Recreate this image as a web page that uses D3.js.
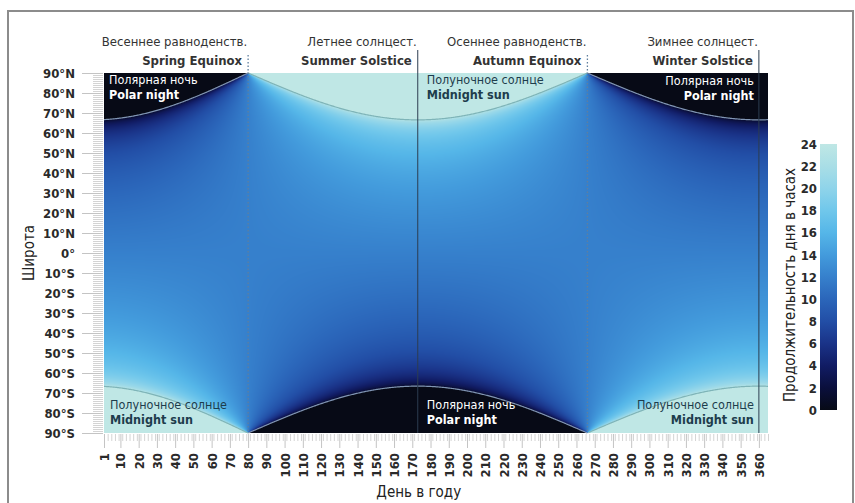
<!DOCTYPE html>
<html>
<head>
<meta charset="utf-8">
<script src="https://cdn.jsdelivr.net/npm/d3@7"></script>
<style>
  body { margin: 0; background: #fff; }
  svg { display: block; }
  text { font-family: "Liberation Sans Narrow", "DejaVu Sans Condensed", "Roboto Condensed", "Liberation Sans", sans-serif; }
</style>
</head>
<body>
<svg id="chart" width="855" height="503"></svg>
<script>
// ticks and labels
const latTicks = [90, 80, 70, 60, 50, 40, 30, 20, 10, 0, -10, -20, -30, -40, -50, -60, -70, -80, -90];
const dayTicks = [1, 10, 20, 30, 40, 50, 60, 70, 80, 90, 100, 110, 120, 130, 140, 150, 160, 170, 180,
  190, 200, 210, 220, 230, 240, 250, 260, 270, 280, 290, 300, 310, 320, 330, 340, 350, 360];
const hourTicks = [0, 2, 4, 6, 8, 10, 12, 14, 16, 18, 20, 22, 24];
const hourColors = ["#070a16", "#0a0f3c", "#111c64", "#1a3388", "#224ea6", "#2b66ba", "#3680cc",
  "#439bdc", "#55b6e8", "#70c7eb", "#8fd4ea", "#a9dee6", "#bfe7e5"];

// equinoxes / solstices
const eventDays = [80, 173, 266, 360];
const eventRu = ["Весеннее равноденств.", "Летнее солнцест.", "Осеннее равноденств.", "Зимнее солнцест."];
const eventEn = ["Spring Equinox", "Summer Solstice", "Autumn Equinox", "Winter Solstice"];

const TILT = 23.44; // axial tilt, degrees

const margin = { top: 73, left: 104 };
const width = 768 - margin.left;
const height = 433 - margin.top;

const svg = d3.select("#chart");

// outer frame
svg.append("rect")
  .attr("x", 8).attr("y", 11).attr("width", 845).attr("height", 520)
  .attr("fill", "none").attr("stroke", "#8c8c8c").attr("stroke-width", 2);

const g = svg.append("g").attr("transform", `translate(${margin.left},${margin.top})`);

const x = d3.scaleLinear().domain([1, 365]).range([0, width]);
const y = d3.scaleLinear().domain([90, -90]).range([0, height]);
const color = d3.scaleLinear().domain(hourTicks).range(hourColors).clamp(true);

// solar declination, phase pinned to the marked equinox / solstice days
function declination(day) {
  let d = day;
  if (d < eventDays[0]) d += 365;
  let phase;
  if (d <= eventDays[1]) phase = (d - eventDays[0]) / (eventDays[1] - eventDays[0]) * Math.PI / 2;
  else if (d <= eventDays[2]) phase = Math.PI / 2 + (d - eventDays[1]) / (eventDays[2] - eventDays[1]) * Math.PI / 2;
  else if (d <= eventDays[3]) phase = Math.PI + (d - eventDays[2]) / (eventDays[3] - eventDays[2]) * Math.PI / 2;
  else phase = 1.5 * Math.PI + (d - eventDays[3]) / (eventDays[0] + 365 - eventDays[3]) * Math.PI / 2;
  return TILT * Math.sin(phase);
}

function dayLength(lat, day) {
  const rad = Math.PI / 180;
  const c = -Math.tan(lat * rad) * Math.tan(declination(day) * rad);
  if (c >= 1) return 0;
  if (c <= -1) return 24;
  return 2 * Math.acos(c) / rad / 15;
}

// heatmap rendered to a canvas, placed as an image
const canvas = document.createElement("canvas");
canvas.width = width; canvas.height = height;
const ctx = canvas.getContext("2d");
const img = ctx.createImageData(width, height);
for (let py = 0; py < height; py++) {
  const lat = y.invert(py + 0.5);
  for (let px = 0; px < width; px++) {
    const day = x.invert(px + 0.5);
    const c = d3.rgb(color(dayLength(lat, day)));
    const i = (py * width + px) * 4;
    img.data[i] = c.r; img.data[i + 1] = c.g; img.data[i + 2] = c.b; img.data[i + 3] = 255;
  }
}
ctx.putImageData(img, 0, 0);
g.append("image")
  .attr("width", width).attr("height", height)
  .attr("href", canvas.toDataURL());

// terminator curves (polar night / midnight sun limits)
const days = d3.range(1, 365.01, 0.5);
const north = d3.line().x(d => x(d)).y(d => y(90 - Math.abs(declination(d))));
const south = d3.line().x(d => x(d)).y(d => y(-90 + Math.abs(declination(d))));
const winterHalf = days.filter(d => declination(d) <= 0);
const summerHalf = days.filter(d => declination(d) >= 0);
[[winterHalf, north, "#8095b4"],
 [summerHalf, north, "#7eb4b8"],
 [winterHalf, south, "#7eb4b8"],
 [summerHalf, south, "#8095b4"]].forEach(([ds, line, col]) => {
  // split into continuous runs
  const runs = [];
  ds.forEach(d => {
    const last = runs[runs.length - 1];
    if (last && d - last[last.length - 1] <= 0.51) last.push(d); else runs.push([d]);
  });
  runs.forEach(r => g.append("path").attr("d", line(r))
    .attr("fill", "none").attr("stroke", col).attr("stroke-width", 1.2));
});

// event lines and labels
eventDays.forEach((d, i) => {
  const dotted = i % 2 === 0;
  g.append("line")
    .attr("x1", x(d)).attr("x2", x(d))
    .attr("y1", dotted ? -18 : -23).attr("y2", height)
    .attr("stroke", dotted ? "#5f7f9e" : "#2c3d50")
    .attr("stroke-width", dotted ? 1.3 : 1)
    .attr("stroke-dasharray", dotted ? "1.5,2" : null);
  g.append("text")
    .attr("x", x(d) - 1).attr("y", -27)
    .attr("text-anchor", "end").attr("font-size", 13).attr("fill", "#333")
    .text(eventRu[i]);
  g.append("text")
    .attr("x", x(d) - 6).attr("y", -8)
    .attr("text-anchor", "end").attr("font-size", 13).attr("font-weight", "bold").attr("fill", "#333")
    .text(eventEn[i]);
});

// region labels
const nightRu = "Полярная ночь", nightEn = "Polar night";
const sunRu = "Полуночное солнце", sunEn = "Midnight sun";
const regionLabels = [
  [x(1) + 5, 11, "start", nightRu, nightEn, "#fff"],
  [x(eventDays[1]) + 9, 11, "start", sunRu, sunEn, "#1d3c4c"],
  [x(eventDays[3]) - 5, 12, "end", nightRu, nightEn, "#fff"],
  [x(1) + 6, 336, "start", sunRu, sunEn, "#1d3c4c"],
  [x(eventDays[1]) + 9, 336, "start", nightRu, nightEn, "#fff"],
  [x(eventDays[3]) - 5, 336, "end", sunRu, sunEn, "#1d3c4c"]
];
regionLabels.forEach(([lx, ly, anchor, ru, en, col]) => {
  g.append("text").attr("x", lx).attr("y", ly).attr("text-anchor", anchor)
    .attr("font-size", 12.5).attr("fill", col).text(ru);
  g.append("text").attr("x", lx).attr("y", ly + 15).attr("text-anchor", anchor)
    .attr("font-size", 12.5).attr("font-weight", "bold").attr("fill", col).text(en);
});

// y axis: ruler + labels
g.append("g")
  .call(d3.axisLeft(y).tickValues(d3.range(-90, 91, 1)).tickSize(10).tickFormat(""))
  .call(a => a.select(".domain").remove())
  .call(a => a.selectAll("line").attr("stroke", "#d4d4d4").attr("transform", "translate(-1,0)"));
g.append("g")
  .call(d3.axisLeft(y).tickValues(latTicks).tickSize(21).tickPadding(8)
    .tickFormat(d => d === 0 ? "0°" : `${Math.abs(d)}°${d > 0 ? "N" : "S"}`))
  .call(a => a.select(".domain").remove())
  .call(a => a.selectAll("line").attr("stroke", "#c4c4c4").attr("transform", "translate(-1,0)"))
  .call(a => a.selectAll("text").attr("font-size", 13).attr("font-weight", "bold").attr("fill", "#2a2a2a")
    .style("font-family", null));

g.append("text")
  .attr("transform", `translate(${-70},${height / 2}) rotate(-90)`)
  .attr("text-anchor", "middle").attr("font-size", 15).attr("fill", "#222")
  .text("Широта");

// x axis: ruler + rotated labels
g.append("g").attr("transform", `translate(0,${height})`)
  .call(d3.axisBottom(x).tickValues(d3.range(1, 366, 2)).tickSize(7).tickFormat(""))
  .call(a => a.select(".domain").remove())
  .call(a => a.selectAll("line").attr("stroke", "#d4d4d4").attr("transform", "translate(0,1)"));
g.append("g").attr("transform", `translate(0,${height})`)
  .call(d3.axisBottom(x).tickValues(dayTicks).tickSize(14))
  .call(a => a.select(".domain").remove())
  .call(a => a.selectAll("line").attr("stroke", "#c4c4c4").attr("transform", "translate(0,1)"))
  .call(a => a.selectAll("text")
    .attr("transform", "rotate(-90)")
    .attr("x", -20).attr("y", 0).attr("dy", "0.35em")
    .attr("text-anchor", "end")
    .attr("font-size", 13).attr("font-weight", "bold").attr("fill", "#2a2a2a")
    .style("font-family", null));

g.append("text")
  .attr("x", x(173) + 1).attr("y", height + 64)
  .attr("text-anchor", "middle").attr("font-size", 15).attr("fill", "#222")
  .text("День в году");

// colour bar
const cb = { x: 820, y: 144, w: 17, h: 266 };
const grad = svg.append("defs").append("linearGradient")
  .attr("id", "cbar").attr("x1", 0).attr("y1", 1).attr("x2", 0).attr("y2", 0);
grad.selectAll("stop").data(hourTicks).join("stop")
  .attr("offset", d => d / 24)
  .attr("stop-color", d => color(d));
svg.append("rect")
  .attr("x", cb.x).attr("y", cb.y).attr("width", cb.w).attr("height", cb.h)
  .attr("fill", "url(#cbar)");

const cScale = d3.scaleLinear().domain([0, 24]).range([cb.y + cb.h, cb.y]);
svg.append("g").attr("transform", `translate(${cb.x - 3},0)`)
  .call(d3.axisLeft(cScale).tickValues(hourTicks).tickSize(0).tickPadding(0))
  .call(a => a.select(".domain").remove())
  .call(a => a.selectAll("text").attr("font-size", 13).attr("font-weight", "bold").attr("fill", "#2a2a2a")
    .style("font-family", null));

svg.append("text")
  .attr("transform", `translate(795,${cb.y + cb.h / 2 + 8}) rotate(-90)`)
  .attr("text-anchor", "middle").attr("font-size", 15).attr("fill", "#222")
  .text("Продолжительность дня в часах");
</script>
</body>
</html>
